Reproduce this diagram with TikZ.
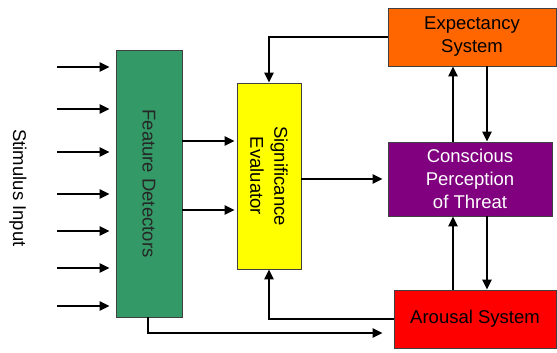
\documentclass[tikz,border=0pt]{standalone}
\usepackage{fontspec}
\setmainfont{Liberation Sans}
\usetikzlibrary{arrows.meta}
\definecolor{fgreen}{HTML}{339966}
\definecolor{fyellow}{HTML}{FFFF00}
\definecolor{forange}{HTML}{FF6600}
\definecolor{fpurple}{HTML}{800080}
\definecolor{fred}{HTML}{FF0000}
\begin{document}
\begin{tikzpicture}[x=1pt,y=-1pt,
  box/.style={draw=black!75,line width=0.9pt,inner sep=0pt,align=center,
    font=\fontsize{18.5}{23}\selectfont},
  arr/.style={line width=2.3pt,-{Triangle[length=10pt,width=9pt]}},
  ln/.style={line width=2.3pt}]
\useasboundingbox (0,0) rectangle (557,353);
\node[box,fill=fgreen,minimum width=66pt,minimum height=267pt] (fd) at (149,183.5) {};
\node[rotate=-90,font=\fontsize{18.5}{23}\selectfont,text=black!85] (fdt) at (fd.center) {Feature Detectors};
\node[box,fill=fyellow,minimum width=64pt,minimum height=186pt] (se) at (269,176) {};
\node[rotate=-90,align=center,font=\fontsize{18.5}{24}\selectfont] (set) at (se.center) {Significance\\Evaluator};
\node[box,fill=forange,minimum width=168pt,minimum height=58pt] (ex) at (472,37) {Expectancy\\System};
\node[box,fill=fpurple,text=white,minimum width=164pt,minimum height=74pt] (cp) at (470,179) {Conscious\\Perception\\of Threat};
\node[box,fill=fred,minimum width=162pt,minimum height=58pt] (ar) at (475,319) {Arousal System};
\node[rotate=-90,font=\fontsize{18.5}{23}\selectfont] (si) at (18,188) {Stimulus Input};
% stimulus arrows
\foreach \i/\y in {1/67,2/109,3/152,4/194,5/231,6/268,7/306}{
  \coordinate (s\i) at (57,\y);
  \draw[arr,shorten >=6pt] (s\i) -- (s\i -| fd.west);
}
% feature -> significance
\coordinate (r1) at (0,141);
\coordinate (r2) at (0,210);
\draw[arr,shorten >=2pt] (fd.east |- r1) -- (se.west |- r1);
\draw[arr,shorten >=2pt] (fd.east |- r2) -- (se.west |- r2);
% significance -> conscious
\draw[arr,shorten >=5pt] (se.east |- cp.west) -- (cp.west);
% expectancy -> significance
\draw[arr] (ex.west) -| (se.north);
% arousal -> significance
\draw[arr] (ar.west) -| (se.south);
% vertical arrows
\coordinate (xa) at (453,0);
\coordinate (xb) at (487,0);
\draw[arr] (cp.north -| xa) -- (ex.south -| xa);
\draw[arr] (ex.south -| xb) -- (cp.north -| xb);
\draw[arr] (ar.north -| xa) -- (cp.south -| xa);
\draw[arr] (cp.south -| xb) -- (ar.north -| xb);
% feature -> arousal
\coordinate (xg) at (148,0);
\coordinate (yb) at (0,333);
\draw[arr,shorten >=11pt] (fd.south -| xg) |- (ar.west |- yb);
\end{tikzpicture}
\end{document}
